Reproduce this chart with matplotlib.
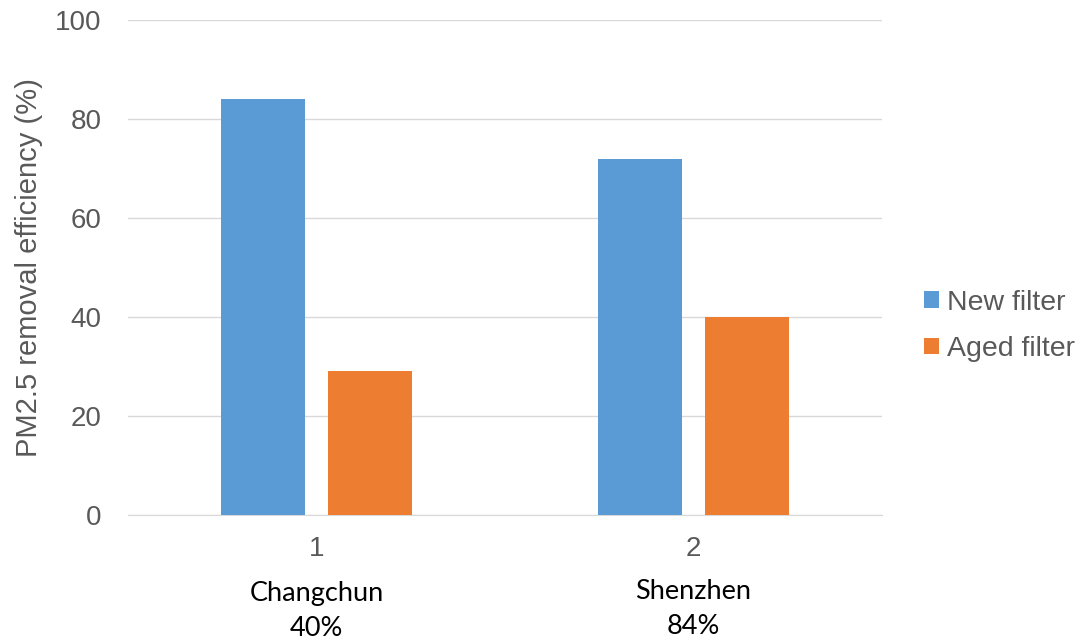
import matplotlib.pyplot as plt
import numpy as np

categories = ['1', '2']
cities = ['Changchun', 'Shenzhen']
city_pct = ['40%', '84%']
new_filter = [84, 72]
aged_filter = [29, 40]

txt = '#595959'
fig = plt.figure(figsize=(10.81, 6.4), dpi=100)
ax = fig.add_axes([128/1081, 1-515/640, (882-128)/1081, (515-20)/640])

x = np.arange(len(categories))
w = 0.225
ax.bar(x - 0.142, new_filter, w, color='#5b9bd5', label='New filter', zorder=3)
ax.bar(x + 0.142, aged_filter, w, color='#ed7d31', label='Aged filter', zorder=3)

ax.set_xlim(-0.5, 1.5)
ax.set_ylim(0, 100)
ax.set_yticks(range(0, 101, 20))
ax.set_xticks(x)
ax.set_xticklabels(categories)
ax.grid(axis='y', color='#d9d9d9', linewidth=1, zorder=0)
for s in ['top', 'right', 'left']:
    ax.spines[s].set_visible(False)
ax.spines['bottom'].set_color('#d9d9d9')
ax.tick_params(length=0, labelsize=20, colors=txt)
ax.tick_params(axis='y', pad=19)
ax.tick_params(axis='x', pad=15)
for lab in ax.get_xticklabels() + ax.get_yticklabels():
    lab.set_family('Liberation Sans')
ax.set_ylabel('PM2.5 removal efficiency (%)', fontsize=21, color=txt,
              family='Liberation Sans')
ax.yaxis.set_label_coords(-0.113, 0.5)

# city names under the category numbers
ys = [(-0.158, -0.229), (-0.154, -0.225)]
for i in range(len(cities)):
    ax.text(x[i], ys[i][0], cities[i], transform=ax.get_xaxis_transform(),
            ha='center', va='center', fontsize=19.5, family='Lato', color='black')
    ax.text(x[i], ys[i][1], city_pct[i], transform=ax.get_xaxis_transform(),
            ha='center', va='center', fontsize=19.5, family='Lato', color='black')

leg = ax.legend(loc='center left', bbox_to_anchor=(1.0557, 0.382), frameon=False,
                prop={'family': 'Liberation Sans', 'size': 20.5},
                borderpad=0, borderaxespad=0,
                handlelength=0.53, handleheight=0.53, handletextpad=0.27, labelspacing=0.72)
for t in leg.get_texts():
    t.set_color(txt)

fig.savefig('out.png', dpi=100)
